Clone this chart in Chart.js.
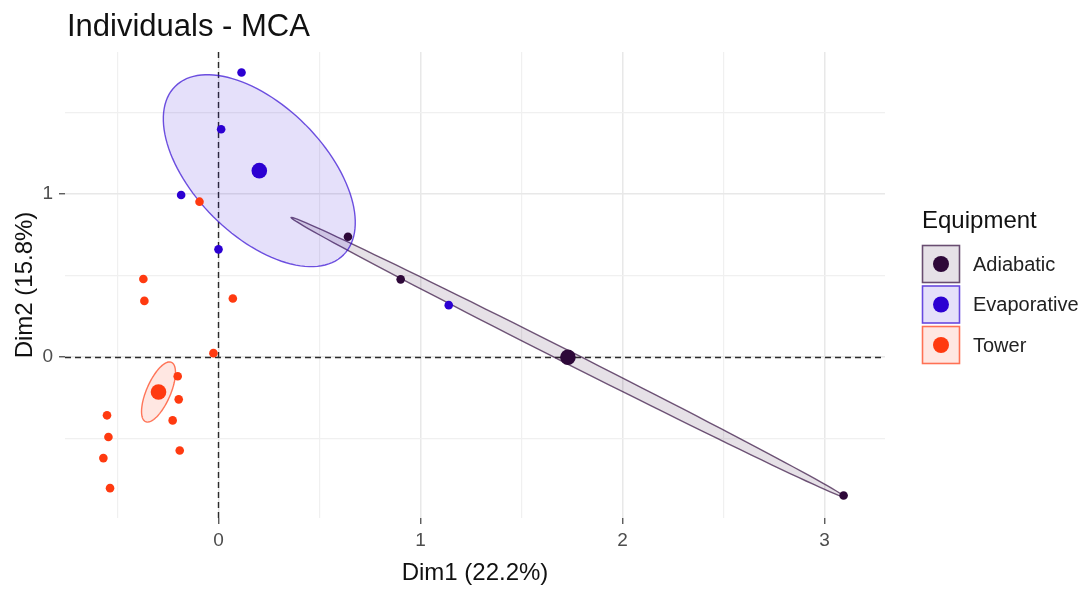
<!DOCTYPE html>
<html>
<head>
<meta charset="utf-8">
<title>Individuals - MCA</title>
<script src="https://cdn.jsdelivr.net/npm/chart.js@4/dist/chart.umd.min.js"></script>
<style>
  html, body { margin: 0; padding: 0; background: #ffffff; }
  #wrap { width: 1089px; height: 592px; }
</style>
</head>
<body>
<div id="wrap"><canvas id="mca" width="1089" height="592"></canvas></div>
<script>
// Group names and colours
const groups = ['Adiabatic', 'Evaporative', 'Tower'];
const groupColors = ['#2E0839', '#2C00D2', '#FF3A10'];

// Individual coordinates on Dim1 / Dim2, one pair of arrays per group
const adiabaticX = [0.641, 0.902, 3.095];
const adiabaticY = [0.738, 0.477, -0.847];
const evaporativeX = [0.114, 0.013, -0.185, 0.000, 1.140];
const evaporativeY = [1.744, 1.397, 0.994, 0.661, 0.319];
const towerX = [-0.094, -0.372, -0.367, 0.071, -0.025, -0.202, -0.197, -0.227, -0.192, -0.552, -0.545, -0.570, -0.537];
const towerY = [0.953, 0.479, 0.345, 0.360, 0.025, -0.117, -0.258, -0.387, -0.571, -0.356, -0.489, -0.618, -0.802];

// Group mean points (also the ellipse centres)
const centroidX = [1.730, 0.202, -0.297];
const centroidY = [0.000, 1.143, -0.213];

// Concentration ellipses: two conjugate semi-axis vectors per group, in data units
const ellipseAxisA = [[1.370, -0.856], [0.417, -0.516], [0.064, 0.182]];
const ellipseAxisB = [[0.014, 0.034], [0.228, 0.282], [0.0545, -0.0294]];

// Axis ticks
const xTickLabels = [0, 1, 2, 3];
const yTickLabels = [0, 1];

const FONT = '"Liberation Sans", Arial, "DejaVu Sans", sans-serif';
const groupX = [adiabaticX, evaporativeX, towerX];
const groupY = [adiabaticY, evaporativeY, towerY];

function rgba(hex, a) {
  const n = parseInt(hex.slice(1), 16);
  return `rgba(${(n >> 16) & 255},${(n >> 8) & 255},${n & 255},${a})`;
}

const datasets = [];
groups.forEach((g, i) => {
  datasets.push({
    label: g,
    data: groupX[i].map((v, k) => ({ x: v, y: groupY[i][k] })),
    backgroundColor: groupColors[i],
    borderColor: groupColors[i],
    borderWidth: 0,
    pointRadius: 4.3,
    showLine: false
  });
});
groups.forEach((g, i) => {
  datasets.push({
    label: g + ' mean',
    data: [{ x: centroidX[i], y: centroidY[i] }],
    backgroundColor: groupColors[i],
    borderColor: groupColors[i],
    borderWidth: 0,
    pointRadius: 7.8,
    showLine: false
  });
});

const isMajor = (v) => Math.abs(v - Math.round(v)) < 1e-9;

// Reference lines, ellipses, title and legend
const mcaDecor = {
  id: 'mcaDecor',
  beforeDatasetsDraw(chart) {
    const { ctx, chartArea: a, scales: { x, y } } = chart;
    ctx.save();
    ctx.beginPath();
    ctx.rect(a.left, a.top, a.right - a.left, a.bottom - a.top);
    ctx.clip();

    // dashed lines through the origin
    ctx.strokeStyle = '#2b2b2b';
    ctx.lineWidth = 1.4;
    ctx.setLineDash([6, 4]);
    const x0 = Math.round(x.getPixelForValue(0)) + 0.5;
    const y0 = Math.round(y.getPixelForValue(0)) + 0.5;
    ctx.beginPath();
    ctx.moveTo(x0, a.top); ctx.lineTo(x0, a.bottom);
    ctx.moveTo(a.left, y0); ctx.lineTo(a.right, y0);
    ctx.stroke();
    ctx.setLineDash([]);

    // group ellipses
    groups.forEach((g, i) => {
      const cx = centroidX[i], cy = centroidY[i];
      const [ax, ay] = ellipseAxisA[i];
      const [bx, by] = ellipseAxisB[i];
      ctx.beginPath();
      const n = 120;
      for (let k = 0; k <= n; k++) {
        const t = (k / n) * Math.PI * 2;
        const px = x.getPixelForValue(cx + ax * Math.cos(t) + bx * Math.sin(t));
        const py = y.getPixelForValue(cy + ay * Math.cos(t) + by * Math.sin(t));
        if (k === 0) ctx.moveTo(px, py); else ctx.lineTo(px, py);
      }
      ctx.closePath();
      ctx.fillStyle = rgba(groupColors[i], 0.12);
      ctx.fill();
      ctx.strokeStyle = rgba(groupColors[i], 0.68);
      ctx.lineWidth = 1.4;
      ctx.stroke();
    });
    ctx.restore();
  },
  afterDraw(chart) {
    const { ctx, chartArea: a } = chart;
    ctx.save();
    // title
    ctx.fillStyle = '#111111';
    ctx.font = `31px ${FONT}`;
    ctx.textAlign = 'left';
    ctx.textBaseline = 'alphabetic';
    ctx.fillText('Individuals - MCA', a.left + 2, 36);

    // legend
    const lx = 922, ly0 = 245, size = 38, pitch = 40.5;
    ctx.font = `24px ${FONT}`;
    ctx.fillStyle = '#111111';
    ctx.fillText('Equipment', lx, 228);
    groups.forEach((g, i) => {
      const top = ly0 + i * pitch;
      ctx.fillStyle = '#ffffff';
      ctx.fillRect(lx, top, size, size);
      ctx.fillStyle = rgba(groupColors[i], 0.12);
      ctx.fillRect(lx, top, size, size);
      ctx.strokeStyle = rgba(groupColors[i], 0.68);
      ctx.lineWidth = 1.6;
      ctx.strokeRect(lx + 0.5, top + 0.5, size - 1, size - 1);
      ctx.beginPath();
      ctx.arc(lx + size / 2, top + size / 2, 8, 0, Math.PI * 2);
      ctx.fillStyle = groupColors[i];
      ctx.fill();
      ctx.fillStyle = '#222222';
      ctx.font = `20px ${FONT}`;
      ctx.textBaseline = 'middle';
      ctx.fillText(g, lx + 51, top + size / 2 + 1);
      ctx.textBaseline = 'alphabetic';
    });
    ctx.restore();
  }
};

const gridColor = (c) => (c.tick && isMajor(c.tick.value)) ? '#E8E8E8' : '#F0F0F0';
const gridWidth = (c) => (c.tick && isMajor(c.tick.value)) ? 1.5 : 1.2;
const tickColor = (c) => (c.tick && isMajor(c.tick.value)) ? '#4d4d4d' : 'rgba(0,0,0,0)';
const tickLabel = (list) => (v) => list.some((t) => Math.abs(t - v) < 1e-9) ? String(Math.round(v)) : '';

new Chart(document.getElementById('mca'), {
  type: 'scatter',
  data: { datasets },
  options: {
    responsive: false,
    devicePixelRatio: 1,
    animation: false,
    events: [],
    layout: { padding: { top: 52, right: 204, left: 0, bottom: 0 } },
    plugins: {
      legend: { display: false },
      tooltip: { enabled: false },
      title: { display: false }
    },
    scales: {
      x: {
        type: 'linear',
        min: -0.76,
        max: 3.3,
        afterFit: (s) => { s.height = 74; },
        border: { display: false },
        grid: { color: gridColor, lineWidth: gridWidth, tickColor: tickColor, tickLength: 6, tickWidth: 1.3 },
        ticks: {
          stepSize: 0.5, includeBounds: false, autoSkip: false, maxRotation: 0,
          color: '#4d4d4d', font: { family: FONT, size: 19 }, padding: 5,
          callback: tickLabel(xTickLabels)
        },
        title: { display: true, text: 'Dim1 (22.2%)', color: '#111111', font: { family: FONT, size: 24 }, padding: { top: 0, bottom: 4 } }
      },
      y: {
        type: 'linear',
        min: -0.985,
        max: 1.87,
        afterFit: (s) => { s.width = 65; },
        border: { display: false },
        grid: { color: gridColor, lineWidth: gridWidth, tickColor: tickColor, tickLength: 6, tickWidth: 1.3 },
        ticks: {
          stepSize: 0.5, includeBounds: false, autoSkip: false,
          color: '#4d4d4d', font: { family: FONT, size: 19 }, padding: 6,
          callback: tickLabel(yTickLabels)
        },
        title: { display: true, text: 'Dim2 (15.8%)', color: '#111111', font: { family: FONT, size: 24 }, padding: { top: 11, bottom: 0 } }
      }
    }
  },
  plugins: [mcaDecor]
});
</script>
</body>
</html>
